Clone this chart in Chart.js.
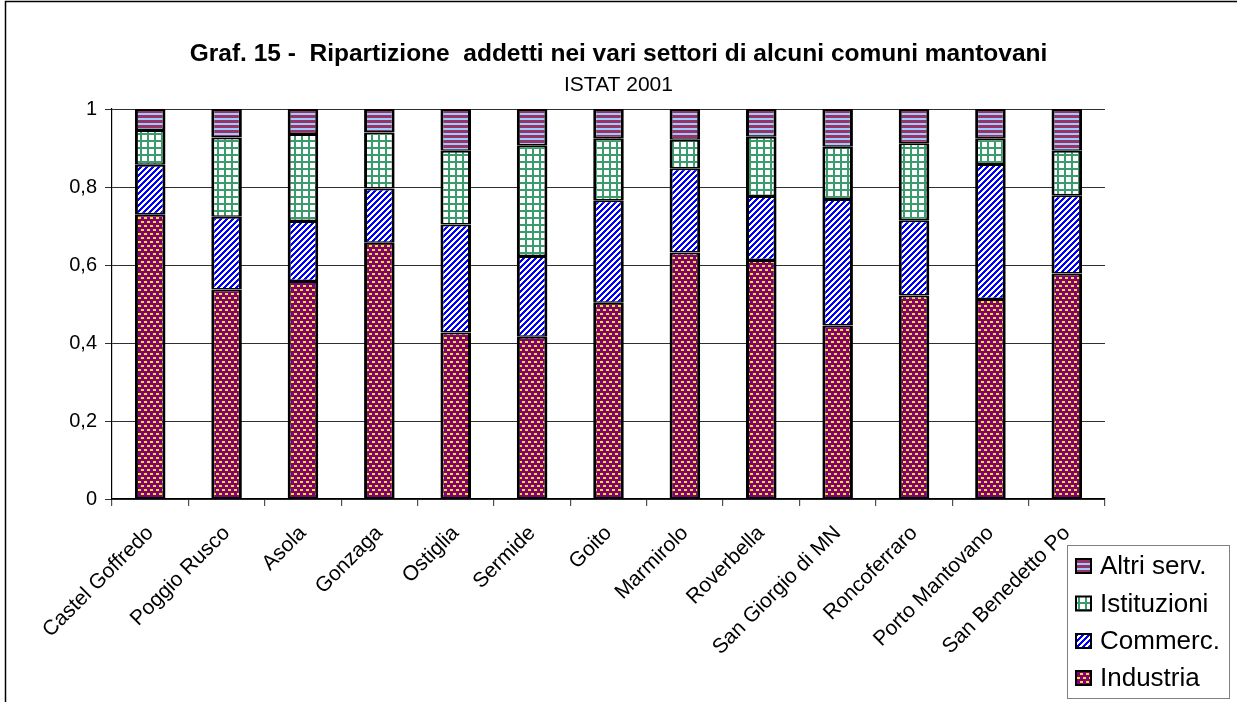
<!DOCTYPE html>
<html><head><meta charset="utf-8">
<script src="https://cdn.jsdelivr.net/npm/chart.js@4.4.1/dist/chart.umd.min.js"></script>
<style>html,body{margin:0;padding:0;background:#fff;overflow:hidden}#wrap{width:1237px;height:702px;position:relative}</style>
</head><body><div id="wrap"><canvas id="c"></canvas></div>
<script>
const categories = ['Castel Goffredo','Poggio Rusco','Asola','Gonzaga','Ostiglia','Sermide','Goito','Marmirolo','Roverbella','San Giorgio di MN','Roncoferraro','Porto Mantovano','San Benedetto Po'];
const industria   = [0.730,0.537,0.559,0.657,0.427,0.416,0.503,0.632,0.613,0.445,0.522,0.513,0.578];
const commerc     = [0.127,0.187,0.154,0.139,0.277,0.207,0.263,0.216,0.164,0.324,0.193,0.346,0.201];
const istituzioni = [0.089,0.203,0.223,0.144,0.189,0.284,0.159,0.073,0.152,0.134,0.197,0.066,0.114];
const altriServ   = [0.054,0.073,0.064,0.060,0.107,0.093,0.075,0.079,0.071,0.097,0.088,0.075,0.107];
const yTickLabels = ['0','0,2','0,4','0,6','0,8','1'];
const titleText = 'Graf. 15 -  Ripartizione  addetti nei vari settori di alcuni comuni mantovani';
const subtitleText = 'ISTAT 2001';

const FONT = "'Liberation Sans', Arial, sans-serif";

function makePattern(w, h, draw) {
  const c = document.createElement('canvas');
  c.width = w; c.height = h;
  const x = c.getContext('2d');
  draw(x, w, h);
  return document.getElementById('c').getContext('2d').createPattern(c, 'repeat');
}
const patIndustria = makePattern(6, 8, (x) => {
  x.fillStyle = '#800080'; x.fillRect(0,0,6,8);
  x.fillStyle = '#FFE800'; x.fillRect(0,1,3,2); x.fillRect(3,5,3,2);
});
const patCommerc = makePattern(6, 6, (x) => {
  x.fillStyle = '#ffffff'; x.fillRect(0,0,6,6);
  x.fillStyle = '#0000FF';
  for (let i = 0; i < 6; i++) for (let j = 0; j < 6; j++) if ((i + j) % 6 < 3) x.fillRect(i,j,1,1);
});
const patIstituzioni = makePattern(7, 7, (x) => {
  x.fillStyle = '#ffffff'; x.fillRect(0,0,7,7);
  x.fillStyle = '#3a9c6c'; x.fillRect(0,0,7,2); x.fillRect(0,0,2,7);
});
const patAltri = makePattern(4, 5, (x) => {
  x.fillStyle = '#993366'; x.fillRect(0,0,4,3);
  x.fillStyle = '#99ccff'; x.fillRect(0,3,4,2);
});

const frame = {
  id: 'frame',
  beforeDraw(chart) {
    const c = chart.ctx;
    c.save();
    c.fillStyle = '#fff'; c.fillRect(0,0,chart.width,chart.height);
    c.strokeStyle = '#000'; c.lineWidth = 1.5;
    c.beginPath(); c.moveTo(5.5, chart.height); c.lineTo(5.5, 1.5); c.lineTo(chart.width, 1.5); c.stroke();
    c.restore();
  }
};

const legendBox = {
  id: 'legendBox',
  afterDraw(chart) {
    const c = chart.ctx;
    c.save();
    c.strokeStyle = '#808080'; c.lineWidth = 1;
    c.strokeRect(1067.5, 545.5, 162, 153);
    const ds = chart.data.datasets.slice().reverse();
    const rows = [566, 603.5, 641, 678];
    c.font = '26px ' + FONT;
    c.textBaseline = 'middle';
    ds.forEach((d, i) => {
      const y = rows[i];
      c.fillStyle = d.backgroundColor;
      c.fillRect(1076, y - 7, 15, 14);
      c.strokeStyle = '#000'; c.lineWidth = 2;
      c.strokeRect(1076, y - 7, 15, 14);
      c.fillStyle = '#000';
      c.fillText(d.label, 1100, y + 1);
    });
    c.restore();
  }
};

const mk = (label, data, bg) => ({label, data, backgroundColor: bg, borderColor: '#000',
  borderWidth: {left: 3, right: 3, top: 2, bottom: 1.5}, borderSkipped: false, barPercentage: 0.4, categoryPercentage: 1});

new Chart(document.getElementById('c'), {
  type: 'bar',
  data: {
    labels: categories,
    datasets: [
      mk('Industria', industria, patIndustria),
      mk('Commerc.', commerc, patCommerc),
      mk('Istituzioni', istituzioni, patIstituzioni),
      mk('Altri serv.', altriServ, patAltri)
    ]
  },
  options: {
    responsive: true,
    maintainAspectRatio: false,
    animation: false,
    layout: { padding: 0 },
    plugins: {
      legend: { display: false },
      tooltip: { enabled: false },
      title: { display: true, text: titleText, color: '#000', font: { family: FONT, size: 24.5, weight: 'bold', lineHeight: 1.2 }, padding: { top: 40, bottom: 0 } },
      subtitle: { display: true, text: subtitleText, color: '#000', font: { family: FONT, size: 21, lineHeight: 1.2 }, padding: { top: 3, bottom: 11.4 } }
    },
    scales: {
      x: {
        stacked: true,
        offset: true,
        grid: {
          offset: true, drawOnChartArea: true, drawTicks: true, tickLength: 7,
          color: (ctx) => ctx.index === categories.length ? '#505050' : 'rgba(0,0,0,0)',
          tickColor: '#505050', lineWidth: 1.2
        },
        border: { color: '#000', width: 1.2 },
        ticks: { color: '#000', font: { family: FONT, size: 21 }, minRotation: 45, maxRotation: 45, padding: 15, autoSkip: false },
        afterFit(scale) { scale.height = 203; }
      },
      y: {
        stacked: true,
        min: 0, max: 1,
        grid: { color: '#303030', lineWidth: 1, drawTicks: true, tickLength: 7, tickColor: '#303030' },
        border: { color: '#000', width: 1.2 },
        ticks: { stepSize: 0.2, color: '#000', font: { family: FONT, size: 20 }, padding: 8, callback: (v, i) => yTickLabels[i] },
        afterFit(scale) { scale.width = 112; }
      },
      yRight: {
        type: 'linear',
        position: 'right',
        display: true,
        grid: { display: false, drawTicks: false },
        border: { display: false },
        ticks: { display: false },
        afterFit(scale) { scale.width = 132; }
      }
    }
  },
  plugins: [frame, legendBox]
});
</script>
</body></html>
